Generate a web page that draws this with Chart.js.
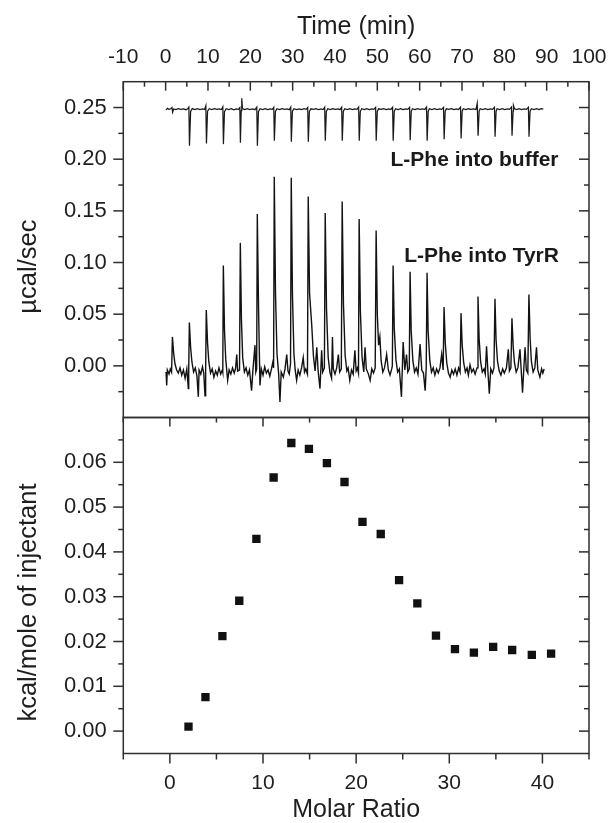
<!DOCTYPE html>
<html><head><meta charset="utf-8">
<script src="https://cdn.jsdelivr.net/npm/chart.js@4.4.1/dist/chart.umd.min.js"></script>
<style>
html,body{margin:0;padding:0;background:#fff;}
#wrap{position:relative;width:612px;height:823px;overflow:hidden;background:#fff;}
canvas{position:absolute;left:0;}
#cTop{top:0;}
#cBot{top:403px;}
</style></head><body>
<div id="wrap"><canvas id="cBot" width="612" height="420"></canvas><canvas id="cTop" width="612" height="432"></canvas></div>
<script>
// ---------- tick labels ----------
const timeTicks = [-10, 0, 10, 20, 30, 40, 50, 60, 70, 80, 90, 100];
const timeMinor = [-5, 5, 15, 25, 35, 45, 55, 65, 75, 85, 95];
const rawTicks = [0.00, 0.05, 0.10, 0.15, 0.20, 0.25];
const rawMinor = [-0.025, 0.025, 0.075, 0.125, 0.175, 0.225];
const molarTicks = [0, 10, 20, 30, 40];
const molarMinor = [-5, 5, 15, 25, 35, 45];
const heatTicks = [0.00, 0.01, 0.02, 0.03, 0.04, 0.05, 0.06];
const heatMinor = [0.005, 0.015, 0.025, 0.035, 0.045, 0.055, 0.065];

// ---------- raw ITC trace: L-Phe into TyrR  [time (min), µcal/sec] ----------
const tyrTrace = [
[0.1,-0.006],[0.25,-0.019],[0.4,-0.004],[0.8,-0.008],[1.1,-0.003],[1.4,-0.006],
[1.6,0.028],[1.9,0.012],[2.2,0.002],[2.6,-0.004],[3.0,-0.007],[3.4,-0.002],[3.8,-0.009],[4.2,-0.004],[4.6,-0.012],[5.0,-0.003],[5.36,-0.022],[5.45,-0.005],
[5.6,0.042],[5.9,0.018],[6.2,0.004],[6.6,-0.006],[7.0,-0.002],[7.4,-0.010],[7.72,-0.030],[7.9,-0.004],[8.3,-0.008],[8.7,-0.001],[9.0,-0.007],[9.3,-0.029],[9.45,-0.004],
[9.6,0.054],[9.9,0.022],[10.2,0.004],[10.6,-0.007],[11.0,-0.003],[11.4,-0.011],[11.8,-0.005],[12.2,-0.009],[12.6,-0.002],[13.0,-0.008],[13.4,-0.004],[13.5,-0.006],
[13.63,0.097],[13.9,0.035],[14.2,0.006],[14.65,-0.014],[15.0,-0.004],[15.4,-0.008],[15.8,-0.002],[16.2,-0.007],[16.5,-0.003],[16.8,0.011],[17.0,-0.005],[17.45,-0.004],
[17.64,0.119],[17.9,0.045],[18.2,0.008],[18.6,-0.006],[19.0,-0.002],[19.4,-0.009],[19.8,-0.004],[20.3,-0.024],[20.6,-0.005],[21.1,0.020],[21.3,-0.006],[21.5,-0.003],
[21.65,0.147],[21.95,0.055],[22.28,-0.019],[22.6,-0.003],[23.0,-0.009],[23.4,-0.001],[23.8,-0.007],[24.2,-0.004],[24.6,-0.010],[25.0,-0.003],[25.35,0.004],[25.5,-0.002],
[25.66,0.183],[25.95,0.070],[26.3,0.012],[26.7,-0.008],[27.0,-0.035],[27.3,-0.006],[27.8,-0.011],[28.2,-0.003],[28.6,0.011],[28.9,-0.005],[29.2,-0.008],[29.5,0.002],
[29.67,0.182],[29.95,0.070],[30.3,0.012],[30.6,-0.004],[30.94,-0.014],[31.3,-0.004],[31.7,-0.009],[32.1,-0.002],[32.5,0.008],[32.8,-0.006],[33.1,-0.003],[33.5,-0.008],
[33.68,0.164],[34.0,0.070],[34.5,0.040],[34.9,0.010],[35.3,-0.005],[35.7,0.018],[36.0,-0.004],[36.46,-0.022],[36.85,0.015],[37.1,-0.006],[37.5,-0.002],
[37.69,0.148],[38.0,0.055],[38.4,0.008],[38.8,-0.006],[39.2,-0.012],[39.4,0.028],[39.6,-0.003],[40.0,-0.008],[40.4,-0.002],[40.8,0.011],[41.1,-0.006],[41.5,-0.003],
[41.7,0.159],[42.0,0.060],[42.4,0.010],[42.8,-0.005],[43.1,-0.002],[43.5,-0.014],[43.9,-0.004],[44.3,-0.008],[44.7,0.015],[45.0,-0.005],[45.3,-0.002],[45.55,-0.007],
[45.71,0.142],[46.0,0.053],[46.4,0.008],[46.8,-0.006],[47.1,0.018],[47.4,-0.003],[47.9,-0.008],[48.3,-0.014],[48.7,-0.003],[49.1,-0.007],[49.5,-0.002],
[49.72,0.131],[50.0,0.050],[50.3,0.020],[50.6,0.028],[50.9,0.005],[51.3,-0.006],[51.7,-0.002],[52.2,0.011],[52.6,-0.004],[53.0,-0.009],[53.4,-0.003],[53.55,0.000],
[53.73,0.097],[54.0,0.036],[54.4,0.006],[54.8,-0.006],[55.2,-0.003],[55.7,-0.030],[56.1,0.023],[56.5,-0.004],[56.9,0.011],[57.2,-0.006],[57.55,-0.003],
[57.74,0.091],[58.0,0.034],[58.4,0.005],[58.8,-0.006],[59.2,-0.002],[59.6,-0.008],[60.1,0.021],[60.5,-0.004],[60.9,-0.007],[61.3,-0.024],[61.55,-0.002],
[61.75,0.090],[62.0,0.034],[62.4,0.005],[62.8,-0.006],[63.2,-0.002],[63.6,-0.009],[64.0,-0.003],[64.4,-0.007],[64.8,-0.002],[65.2,0.011],[65.55,-0.004],
[65.76,0.057],[66.05,0.022],[66.4,0.003],[66.8,-0.007],[67.2,-0.011],[67.6,-0.004],[68.0,-0.008],[68.4,-0.003],[68.8,-0.009],[69.2,-0.002],[69.55,-0.006],
[69.77,0.051],[70.05,0.020],[70.4,0.003],[70.8,-0.006],[71.2,-0.002],[71.5,-0.009],[71.9,0.001],[72.3,-0.006],[72.7,-0.003],[73.1,-0.008],[73.55,-0.002],
[73.78,0.067],[74.05,0.026],[74.4,0.004],[74.8,-0.006],[75.2,-0.003],[75.5,-0.008],[75.8,0.019],[76.1,-0.004],[76.45,-0.027],[76.8,-0.003],[77.2,-0.007],[77.55,-0.002],
[77.79,0.065],[78.05,0.025],[78.4,0.004],[78.8,-0.005],[79.2,-0.009],[79.6,-0.003],[80.0,-0.007],[80.5,-0.002],[80.94,0.016],[81.2,-0.005],[81.55,-0.002],
[81.8,0.046],[82.1,0.018],[82.4,0.003],[82.8,-0.006],[83.2,-0.002],[83.7,0.016],[84.0,-0.005],[84.3,-0.026],[84.6,-0.003],[84.9,0.018],[85.2,-0.004],[85.55,-0.007],
[85.81,0.069],[86.1,0.026],[86.4,0.004],[86.8,-0.006],[87.2,-0.002],[87.6,0.018],[87.9,-0.004],[88.4,-0.011],[88.8,-0.003],[89.1,-0.007],[89.4,-0.003]
];

// ---------- raw ITC trace: L-Phe into buffer  [time (min), µcal/sec] ----------
const bufTrace = [
[0.1,0.2478],[0.4,0.2492],[0.8,0.2482],[1.2,0.2488],[1.5,0.2500],[1.65,0.2455],[1.9,0.2486],[2.4,0.2480],[3.0,0.2490],[3.6,0.2483],[4.2,0.2487],[4.8,0.2479],[5.2,0.2489],
[5.49,0.2505],[5.63,0.2130],[5.9,0.2462],[6.3,0.2490],[6.9,0.2481],[7.5,0.2489],[8.1,0.2479],[8.7,0.2487],[9.2,0.2482],
[9.5,0.2518],[9.64,0.2152],[9.9,0.2464],[10.3,0.2488],[10.9,0.2480],[11.5,0.2490],[12.1,0.2483],[12.7,0.2487],[13.2,0.2480],
[13.51,0.2506],[13.65,0.2146],[13.9,0.2460],[14.3,0.2489],[14.9,0.2481],[15.5,0.2488],[16.1,0.2478],[16.7,0.2487],[17.2,0.2482],
[17.52,0.2500],[17.66,0.2160],[17.85,0.2470],[17.98,0.2589],[18.15,0.2490],[18.7,0.2480],[19.3,0.2488],[19.9,0.2481],[20.5,0.2487],[21.1,0.2479],
[21.53,0.2503],[21.67,0.2130],[21.92,0.2460],[22.3,0.2489],[22.9,0.2481],[23.5,0.2488],[24.1,0.2480],[24.7,0.2487],[25.2,0.2482],
[25.54,0.2502],[25.68,0.2178],[25.93,0.2462],[26.3,0.2488],[26.9,0.2480],[27.5,0.2490],[28.1,0.2482],[28.7,0.2487],[29.2,0.2479],
[29.55,0.2504],[29.69,0.2170],[29.94,0.2463],[30.3,0.2489],[30.9,0.2481],[31.5,0.2487],[32.1,0.2479],[32.7,0.2488],[33.2,0.2482],
[33.56,0.2501],[33.7,0.2170],[33.95,0.2461],[34.3,0.2488],[34.9,0.2482],[35.5,0.2489],[36.1,0.2480],[36.7,0.2486],[37.2,0.2481],
[37.57,0.2503],[37.71,0.2178],[37.96,0.2463],[38.3,0.2489],[38.9,0.2480],[39.5,0.2488],[40.1,0.2482],[40.7,0.2487],[41.2,0.2479],
[41.58,0.2502],[41.72,0.2178],[41.97,0.2462],[42.3,0.2488],[42.9,0.2481],[43.5,0.2489],[44.1,0.2480],[44.7,0.2487],[45.2,0.2483],
[45.59,0.2504],[45.73,0.2178],[45.98,0.2461],[46.3,0.2489],[46.9,0.2480],[47.5,0.2488],[48.1,0.2481],[48.7,0.2487],[49.2,0.2482],
[49.6,0.2501],[49.74,0.2178],[49.99,0.2463],[50.3,0.2488],[50.9,0.2482],[51.5,0.2489],[52.1,0.2480],[52.7,0.2487],[53.2,0.2481],
[53.61,0.2503],[53.75,0.2178],[54.0,0.2462],[54.3,0.2489],[54.9,0.2481],[55.5,0.2488],[56.1,0.2479],[56.7,0.2487],[57.2,0.2482],
[57.62,0.2502],[57.76,0.2184],[58.01,0.2463],[58.3,0.2488],[58.9,0.2480],[59.5,0.2489],[60.1,0.2482],[60.7,0.2486],[61.2,0.2481],
[61.63,0.2504],[61.77,0.2178],[62.02,0.2462],[62.3,0.2489],[62.9,0.2481],[63.5,0.2488],[64.1,0.2480],[64.7,0.2487],[65.2,0.2482],
[65.64,0.2502],[65.78,0.2194],[66.03,0.2463],[66.3,0.2488],[66.9,0.2482],[67.5,0.2489],[68.1,0.2479],[68.7,0.2487],[69.2,0.2481],
[69.65,0.2503],[69.79,0.2200],[70.04,0.2464],[70.3,0.2489],[70.9,0.2480],[71.5,0.2488],[72.1,0.2482],[72.7,0.2487],[73.3,0.2481],
[73.6,0.2540],[73.8,0.2227],[74.05,0.2465],[74.3,0.2488],[74.9,0.2481],[75.5,0.2489],[76.1,0.2480],[76.7,0.2487],[77.2,0.2482],
[77.67,0.2502],[77.81,0.2218],[78.06,0.2464],[78.3,0.2489],[78.9,0.2481],[79.5,0.2488],[80.1,0.2480],[80.7,0.2487],[81.2,0.2482],
[81.68,0.2504],[81.82,0.2227],[82.07,0.2465],[82.15,0.2520],[82.4,0.2488],[82.9,0.2480],[83.5,0.2489],[84.1,0.2481],[84.7,0.2487],[85.2,0.2482],
[85.69,0.2503],[85.83,0.2218],[86.08,0.2464],[86.4,0.2489],[87.0,0.2481],[87.6,0.2488],[88.2,0.2480],[88.7,0.2490],[89.2,0.2484]
];

// ---------- integrated heats ----------
const molarRatio = [2.00, 3.82, 5.64, 7.45, 9.29, 11.14, 13.04, 14.93, 16.86, 18.75, 20.68, 22.64, 24.61, 26.57, 28.57, 30.61, 32.64, 34.71, 36.75, 38.86, 40.93];
const heatPerMole = [0.0010, 0.0076, 0.0212, 0.0291, 0.0429, 0.0566, 0.0643, 0.0630, 0.0598, 0.0556, 0.0467, 0.0440, 0.0337, 0.0285, 0.0213, 0.0183, 0.0175, 0.0188, 0.0181, 0.0170, 0.0173];

// ---------- texts ----------
const topYTitle = 'µcal/sec';
const botYTitle = 'kcal/mole of injectant';
const noteBuffer = 'L-Phe into buffer';
const noteTyrR = 'L-Phe into TyrR';

const FONT = "'Liberation Sans', Arial, Helvetica, sans-serif";
Chart.defaults.font.family = FONT;
Chart.defaults.color = '#1e1e1e';

const fixTicks = vals => scale => { scale.ticks = vals.map(v => ({value: v})); };
// invisible library ticks used only as label offset
const hiddenGrid = len => ({display: true, drawOnChartArea: false, drawTicks: true, tickLength: len, color: 'rgba(0,0,0,0)', tickColor: 'rgba(0,0,0,0)'});

const extras = {
  id: 'extras',
  afterDatasetsDraw(chart, args, opts) {
    const {ctx, chartArea: a} = chart;
    ctx.save();
    ctx.strokeStyle = '#2e2e2e';
    ctx.lineWidth = 1.5;
    ctx.strokeRect(a.left, a.top, a.right - a.left, a.bottom - a.top);
    for (const m of opts.marks) {
      const s = chart.scales[m.scale];
      const sets = [[m.major, m.majorLen], [m.minor, m.minorLen]];
      for (const [list, len] of sets) {
        for (const v of list) {
          const p = s.getPixelForValue(v);
          ctx.beginPath();
          if (m.edge === 'left') { const d = m.inward ? len : -len; ctx.moveTo(a.left, p); ctx.lineTo(a.left + d, p); }
          if (m.edge === 'right') { const d = m.inward ? -len : len; ctx.moveTo(a.right, p); ctx.lineTo(a.right + d, p); }
          if (m.edge === 'top') { const d = m.inward ? len : -len; ctx.moveTo(p, a.top); ctx.lineTo(p, a.top + d); }
          if (m.edge === 'bottom') { const d = m.inward ? -len : len; ctx.moveTo(p, a.bottom); ctx.lineTo(p, a.bottom + d); }
          ctx.stroke();
        }
      }
    }
    for (const n of (opts.notes || [])) {
      ctx.font = 'bold 21px ' + FONT;
      ctx.fillStyle = '#1a1a1a';
      ctx.textAlign = 'right';
      ctx.textBaseline = 'middle';
      ctx.fillText(n.text, chart.scales.x.getPixelForValue(n.x), chart.scales.y.getPixelForValue(n.y));
    }
    if (opts.yTitle) {
      const t = opts.yTitle;
      ctx.font = '25.5px ' + FONT;
      ctx.fillStyle = '#1e1e1e';
      ctx.textAlign = 'center';
      ctx.textBaseline = 'middle';
      ctx.translate(t.x, (a.top + a.bottom) / 2 + t.dy);
      ctx.rotate(-Math.PI / 2);
      ctx.fillText(t.text, 0, 0);
    }
    ctx.restore();
  }
};

new Chart(document.getElementById('cTop'), {
  type: 'line',
  data: {
    datasets: [
      {data: bufTrace.map(p => ({x: p[0], y: p[1]})), borderColor: '#1a1a1a', borderWidth: 1.25, pointRadius: 0, tension: 0},
      {data: tyrTrace.map(p => ({x: p[0], y: p[1]})), borderColor: '#121212', borderWidth: 1.4, pointRadius: 0, tension: 0}
    ]
  },
  options: {
    responsive: false, animation: false, devicePixelRatio: 1,
    layout: {padding: {left: 0, right: 23, top: 0, bottom: 14.5}, autoPadding: false},
    plugins: {
      legend: {display: false}, tooltip: {enabled: false},
      extras: {
        marks: [
          {scale: 'y', edge: 'left', inward: false, major: rawTicks, minor: rawMinor, majorLen: 10, minorLen: 5},
          {scale: 'y', edge: 'right', inward: true, major: rawTicks, minor: rawMinor, majorLen: 10, minorLen: 5},
          {scale: 'x', edge: 'top', inward: true, major: timeTicks, minor: timeMinor, majorLen: 9, minorLen: 5}
        ],
        notes: [
          {text: noteBuffer, x: 92.8, y: 0.1994},
          {text: noteTyrR, x: 92.9, y: 0.1061}
        ],
        yTitle: {text: topYTitle, x: 28.5, dy: 17}
      }
    },
    scales: {
      x: {
        type: 'linear', position: 'top', min: -10, max: 100,
        afterBuildTicks: fixTicks(timeTicks),
        afterFit: s => { s.height = 81.7; },
        grid: hiddenGrid(11.4), border: {display: false},
        ticks: {font: {size: 21}, padding: 0, maxRotation: 0, autoSkip: false, callback: v => String(v)},
        title: {display: true, text: 'Time (min)', font: {size: 25, lineHeight: 1.2}, padding: {top: 11.7, bottom: 0}}
      },
      y: {
        type: 'linear', position: 'left', min: -0.05, max: 0.275,
        afterBuildTicks: fixTicks(rawTicks),
        afterFit: s => { s.width = 123.3; },
        grid: hiddenGrid(16.6), border: {display: false},
        ticks: {font: {size: 22}, padding: 0, callback: v => v.toFixed(2)}
      }
    }
  },
  plugins: [extras]
});

new Chart(document.getElementById('cBot'), {
  type: 'scatter',
  data: {
    datasets: [{
      data: molarRatio.map((m, i) => ({x: m, y: heatPerMole[i]})),
      pointStyle: 'rect', pointRadius: 5.9, pointBorderWidth: 0,
      backgroundColor: '#111', borderColor: '#111', showLine: false
    }]
  },
  options: {
    responsive: false, animation: false, devicePixelRatio: 1,
    layout: {padding: {left: 0, right: 23, top: 14.5, bottom: 0}, autoPadding: false},
    plugins: {
      legend: {display: false}, tooltip: {enabled: false},
      extras: {
        marks: [
          {scale: 'y', edge: 'left', inward: false, major: heatTicks, minor: heatMinor, majorLen: 10, minorLen: 5},
          {scale: 'y', edge: 'right', inward: true, major: heatTicks, minor: heatMinor, majorLen: 10, minorLen: 5},
          {scale: 'x', edge: 'bottom', inward: false, major: molarTicks, minor: molarMinor, majorLen: 10, minorLen: 6},
          {scale: 'x', edge: 'top', inward: true, major: molarTicks, minor: molarMinor, majorLen: 9, minorLen: 5}
        ],
        yTitle: {text: botYTitle, x: 28.5, dy: 17}
      }
    },
    scales: {
      x: {
        type: 'linear', position: 'bottom', min: -5, max: 45,
        afterBuildTicks: fixTicks(molarTicks),
        afterFit: s => { s.height = 69.5; },
        grid: hiddenGrid(17.1), border: {display: false},
        ticks: {font: {size: 21}, padding: 0, maxRotation: 0, autoSkip: false, callback: v => String(v)},
        title: {display: true, text: 'Molar Ratio', font: {size: 25, lineHeight: 1}, padding: {top: 0, bottom: 0.1}}
      },
      y: {
        type: 'linear', position: 'left', min: -0.005, max: 0.07,
        afterBuildTicks: fixTicks(heatTicks),
        afterFit: s => { s.width = 123.3; },
        grid: hiddenGrid(16.6), border: {display: false},
        ticks: {font: {size: 22}, padding: 0, callback: v => v.toFixed(2)}
      }
    }
  },
  plugins: [extras]
});
</script>
</body></html>
